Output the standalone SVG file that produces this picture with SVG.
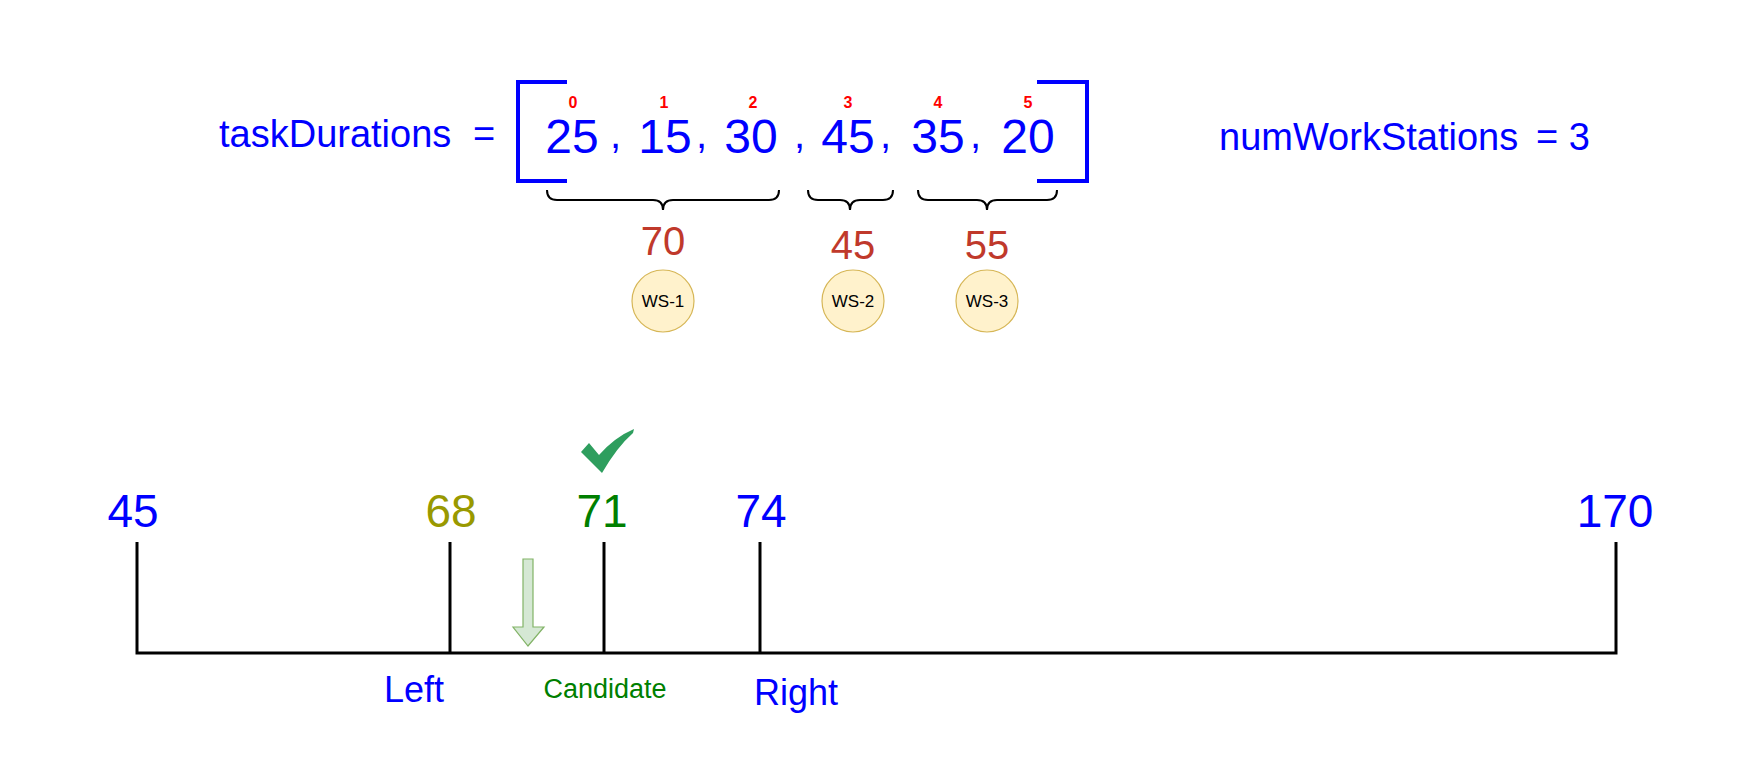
<svg xmlns="http://www.w3.org/2000/svg" width="1738" height="776" viewBox="0 0 1738 776">
<style>
text{font-family:"Liberation Sans",Arial,sans-serif}
.blue{fill:#0000FF}
.big{font-size:38px}
.num{font-size:48px;text-anchor:middle;fill:#0000FF}
.comma{font-size:40px;fill:#0000FF}
.idx{font-size:16px;font-weight:bold;fill:#FF0000;text-anchor:middle}
.sum{font-size:40px;fill:#C0392B;text-anchor:middle}
.ws circle{fill:#FFF2CC;stroke:#D6B656;stroke-width:1.2}
.ws text{font-size:17px;fill:#000;text-anchor:middle}
.brk{fill:none;stroke:#0000FF;stroke-width:4}
.brace{fill:none;stroke:#000;stroke-width:2}
.axis{stroke:#000;stroke-width:3;fill:none}
.val{font-size:46px;text-anchor:middle}
.lbl{font-size:36px;fill:#0000FF;text-anchor:middle}
</style>

<g id="taskDurations-label">
<text class="big blue" x="219" y="147">taskDurations</text>
<text class="big blue" x="473" y="147">=</text>
</g>

<g id="array">
<path class="brk" d="M567,82 H518 V181 H567"/>
<path class="brk" d="M1037,82 H1087 V181 H1037"/>
<text class="num" x="572" y="153">25</text>
<text class="num" x="665" y="153">15</text>
<text class="num" x="751" y="153">30</text>
<text class="num" x="848" y="153">45</text>
<text class="num" x="938" y="153">35</text>
<text class="num" x="1028" y="153">20</text>
<text class="comma" x="610" y="148">,</text>
<text class="comma" x="696" y="148">,</text>
<text class="comma" x="794" y="148">,</text>
<text class="comma" x="880" y="148">,</text>
<text class="comma" x="970" y="148">,</text>
<text class="idx" x="573" y="108">0</text>
<text class="idx" x="664" y="108">1</text>
<text class="idx" x="753" y="108">2</text>
<text class="idx" x="848" y="108">3</text>
<text class="idx" x="938" y="108">4</text>
<text class="idx" x="1028" y="108">5</text>
</g>

<g id="numWorkStations-label">
<text class="big blue" x="1219" y="150">numWorkStations</text>
<text class="big blue" x="1536" y="150">= 3</text>
</g>

<g id="brace-1">
<path class="brace" d="M547,190 Q547,200 557,200 H653 Q663,200 663,210 Q663,200 673,200 H769 Q779,200 779,190"/>
<text class="sum" x="663" y="255">70</text>
</g>
<g id="brace-2">
<path class="brace" d="M808,190 Q808,200 818,200 H840 Q850,200 850,210 Q850,200 860,200 H883 Q893,200 893,190"/>
<text class="sum" x="853" y="259">45</text>
</g>
<g id="brace-3">
<path class="brace" d="M918,190 Q918,200 928,200 H977 Q987,200 987,210 Q987,200 997,200 H1047 Q1057,200 1057,190"/>
<text class="sum" x="987" y="259">55</text>
</g>

<g id="ws-1" class="ws"><circle cx="663" cy="301" r="31"/><text x="663" y="307">WS-1</text></g>
<g id="ws-2" class="ws"><circle cx="853" cy="301" r="31"/><text x="853" y="307">WS-2</text></g>
<g id="ws-3" class="ws"><circle cx="987" cy="301" r="31"/><text x="987" y="307">WS-3</text></g>

<g id="connectors">
<path class="axis" d="M137,542 V653 H1616 V542"/>
<path class="axis" d="M450,542 V653"/>
<path class="axis" d="M604,542 V653"/>
<path class="axis" d="M760,542 V653"/>
</g>

<g id="tick-45"><text class="val blue" x="133" y="527">45</text></g>
<g id="tick-68"><text class="val" fill="#999900" x="451" y="527">68</text></g>
<g id="tick-71"><text class="val" fill="#007F00" x="602" y="527">71</text></g>
<g id="tick-74"><text class="val blue" x="761" y="527">74</text></g>
<g id="tick-170"><text class="val blue" x="1615" y="527">170</text></g>

<g id="checkmark">
<path d="M581,452 L589,443 L599,455 Q615,437 634,429 L633,433 Q617,447 602,473 Z" fill="#2E9E5E"/>
</g>

<g id="candidate-arrow">
<path d="M523,559 H533 V627 H544 L528,646 L513,627 H523 Z" fill="#D5E8D4" stroke="#82B366" stroke-width="1.2"/>
</g>

<g id="labels">
<text class="lbl" x="414" y="702">Left</text>
<text x="605" y="698" font-size="27" fill="#007F00" text-anchor="middle">Candidate</text>
<text class="lbl" x="796" y="705">Right</text>
</g>
</svg>
